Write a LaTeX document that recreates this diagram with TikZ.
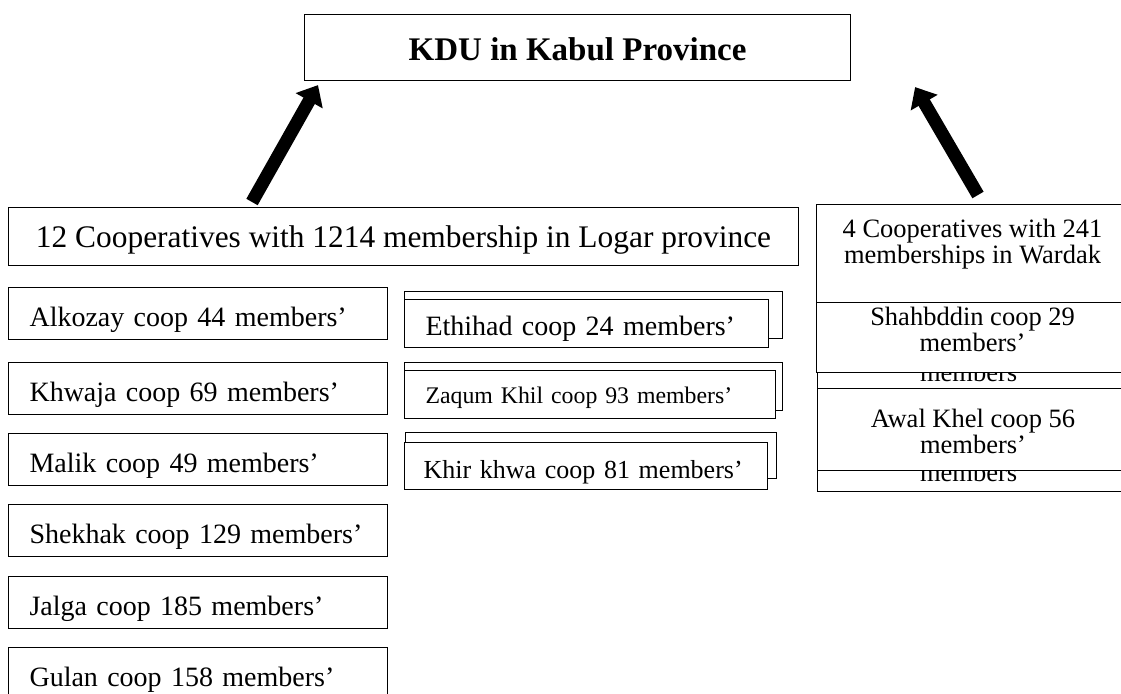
\documentclass[tikz,border=0pt]{standalone}
\usepackage{fontspec}
\setmainfont{Liberation Serif}
\usetikzlibrary{arrows.meta,calc}

\begin{document}
\begin{tikzpicture}[x=1pt,y=-1pt,
  box/.style={draw,line width=1.1pt,fill=white,rectangle,anchor=north west,
    inner xsep=0pt,inner ysep=0pt},
  kdu box/.style={box,minimum width=546pt,text height=46pt,text depth=20pt,
    font=\fontsize{33}{38}\selectfont\bfseries},
  prov box/.style={box,minimum width=790pt,text height=40pt,text depth=18pt,
    font=\fontsize{31.4}{36}\selectfont},
  coop box/.style={box,text width=337pt,inner xsep=21pt,align=left,
    text height=39pt,text depth=13pt,font=\fontsize{28}{33}\selectfont},
  mid box/.style={box,inner xsep=21pt,align=left},
  stack box/.style={box},
  ward box/.style={box,minimum width=312pt,align=center,
    font=\fontsize{26.5}{26}\selectfont},
  bigarrow/.style={line width=13pt,-{Triangle[length=18pt,width=30pt]}}]

  \useasboundingbox (0,0) rectangle (1121,693);

  % top
  \node[kdu box] (kdu) at (304,14) {KDU in Kabul Province};

  % Logar
  \node[prov box] (logar) at (8,207)
    {12 Cooperatives with 1214 membership in Logar province};
  \node[coop box] (alkozay) at (8,287) {Alkozay coop 44 members’};
  \node[coop box] (khwaja) at (8,362) {Khwaja coop 69 members’};
  \node[coop box] (malik) at (8,433) {Malik coop 49 members’};
  \node[coop box] (shekhak) at (8,504) {Shekhak coop 129 members’};
  \node[coop box] (jalga) at (8,576) {Jalga coop 185 members’};
  \node[coop box] (gulan) at (8,647) {Gulan coop 158 members’};

  \node[stack box,minimum width=378pt,minimum height=47pt] (ethihad back) at (404,291) {};
  \node[mid box,text width=322pt,text height=36pt,text depth=12pt,
    font=\fontsize{28}{33}\selectfont] (ethihad) at (404,299) {Ethihad coop 24 members’};
  \node[stack box,minimum width=378pt,minimum height=48pt] (zaqum back) at (404,362) {};
  \node[mid box,text width=329pt,text height=33pt,text depth=15pt,
    font=\fontsize{23.8}{28}\selectfont] (zaqum) at (404,370) {Zaqum Khil coop 93 members’};
  \node[stack box,minimum width=371pt,minimum height=46pt] (khir back) at (405,432) {};
  \node[mid box,inner xsep=19pt,text width=325pt,text height=36pt,text depth=11pt,
    font=\fontsize{26}{31}\selectfont] (khir) at (404,442) {Khir khwa coop 81 members’};

  % Wardak
  \node[ward box,text height=59pt,text depth=39pt] (wardak) at (816,204)
    {4 Cooperatives with 241\\memberships in Wardak};
  \node[ward box,minimum width=311pt,text height=50pt,text depth=20pt] (shahbddin back) at (817,331)
    {Shahbddin coop 29\\members’};
  \node[ward box,text height=49pt,text depth=21pt] (shahbddin) at (816,302)
    {Shahbddin coop 29\\members’};
  \node[ward box,minimum width=311pt,text height=64pt,text depth=10pt] (awal back) at (817,417)
    {Awal Khel coop 56\\members’};
  \node[ward box,minimum width=311pt,text height=65pt,text depth=17pt] (awal) at (817,388)
    {Awal Khel coop 56\\members’};

  \draw[bigarrow] ($(logar.north west)+(244,-5)$) -- ($(kdu.south west)+(14,4)$);
  \draw[bigarrow] ($(wardak.north west)+(162,-9)$) -- ($(kdu.south east)+(64,6)$);

\end{tikzpicture}
\end{document}
